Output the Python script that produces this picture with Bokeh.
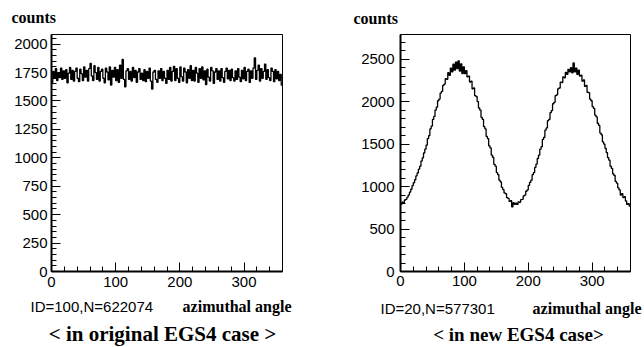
from bokeh.plotting import figure
from bokeh.layouts import row, column
from bokeh.models import Range1d, SingleIntervalTicker, Label
from bokeh.embed import file_html
from bokeh.resources import INLINE

# ---------------- data ----------------
bin_width = 2
edges = list(range(0, 362, bin_width))  # 0..360 azimuthal angle (deg)

counts_original = [
    1665, 1760, 1700, 1785, 1680, 1750, 1705, 1790, 1690, 1765,
    1700, 1775, 1660, 1745, 1795, 1690, 1770, 1675, 1760, 1790,
    1700, 1670, 1780, 1740, 1680, 1800, 1710, 1770, 1675, 1785,
    1830, 1720, 1680, 1810, 1750, 1690, 1795, 1675, 1760, 1780,
    1700, 1660, 1790, 1755, 1685, 1800, 1640, 1770, 1710, 1795,
    1680, 1775, 1665, 1815, 1700, 1865, 1690, 1625, 1765, 1785,
    1690, 1760, 1675, 1795, 1705, 1770, 1665, 1755, 1785, 1690,
    1745, 1680, 1775, 1670, 1760, 1700, 1790, 1675, 1605, 1755,
    1770, 1690, 1665, 1765, 1700, 1785, 1680, 1760, 1700, 1655,
    1770, 1690, 1795, 1675, 1760, 1805, 1680, 1785, 1700, 1665,
    1800, 1715, 1675, 1790, 1755, 1660, 1775, 1700, 1810, 1680,
    1770, 1675, 1795, 1745, 1665, 1785, 1700, 1800, 1685, 1765,
    1645, 1780, 1710, 1675, 1795, 1765, 1655, 1755, 1785, 1690,
    1765, 1675, 1785, 1705, 1665, 1760, 1790, 1695, 1770, 1680,
    1780, 1705, 1675, 1765, 1690, 1785, 1710, 1670, 1770, 1695,
    1795, 1680, 1760, 1780, 1665, 1765, 1700, 1790, 1880, 1690,
    1770, 1815, 1675, 1785, 1700, 1760, 1825, 1690, 1775, 1705,
    1680, 1790, 1760, 1670, 1775, 1695, 1760, 1680, 1735, 1640,
]

counts_new = [
    790, 815, 808, 842, 850, 875, 900, 935, 968, 1010,
    1045, 1080, 1125, 1160, 1205, 1240, 1300, 1338, 1395, 1440,
    1488, 1565, 1600, 1680, 1712, 1790, 1825, 1900, 1935, 2010,
    2030, 2100, 2120, 2190, 2205, 2270, 2262, 2340, 2310, 2395,
    2350, 2440, 2370, 2465, 2390, 2480, 2360, 2445, 2330, 2410,
    2330, 2365, 2290, 2300, 2230, 2240, 2150, 2160, 2070, 2060,
    2000, 1925, 1900, 1815, 1790, 1705, 1680, 1590, 1565, 1480,
    1455, 1370, 1345, 1262, 1240, 1165, 1140, 1075, 1055, 990,
    965, 925, 915, 870, 860, 825, 835, 760, 810, 790,
    805, 790, 820, 815, 845, 850, 890, 900, 945, 960,
    1015, 1050, 1075, 1140, 1165, 1225, 1265, 1330, 1370, 1440,
    1470, 1555, 1580, 1665, 1690, 1775, 1790, 1870, 1895, 1975,
    1990, 2070, 2080, 2150, 2160, 2230, 2225, 2290, 2280, 2345,
    2320, 2380, 2350, 2400, 2340, 2455, 2350, 2395, 2320, 2370,
    2300, 2310, 2240, 2255, 2180, 2190, 2110, 2105, 2030, 2010,
    1940, 1920, 1840, 1820, 1745, 1720, 1630, 1610, 1525, 1500,
    1450, 1400, 1340, 1310, 1240, 1215, 1150, 1130, 1060, 1040,
    985, 960, 900, 915, 870, 880, 830, 790, 800, 770,
]

y_label = "counts"
x_label = "azimuthal angle"
id_original = "ID=100,N=622074"
id_new = "ID=20,N=577301"
caption_original = "< in original EGS4 case >"
caption_new = "< in new EGS4 case>"

SANS = "Liberation Sans"
SERIF = "Liberation Serif"

W = 322
TOP_H = 28
MAIN_H = 270
BOT_H = 49


def text_fig(h):
    """A blank figure whose frame is the whole canvas, y growing downward (pixels)."""
    t = figure(width=W, height=h, output_backend="svg", toolbar_location=None,
               x_range=Range1d(0, W), y_range=Range1d(h, 0),
               x_axis_location=None, y_axis_location=None,
               min_border=0)
    t.grid.visible = False
    t.outline_line_color = None
    t.background_fill_color = "white"
    t.border_fill_color = "white"
    return t


def add_text(t, x, y, text, font, size, bold=False, align="left"):
    t.add_layout(Label(x=x, y=y, text=text, text_font=font,
                       text_font_style="bold" if bold else "normal",
                       text_font_size=size, text_baseline="middle",
                       text_align=align, text_color="black"))


def make_main(values, ymax, y_interval, borders, ystandoff, xstandoff):
    left, right, top, bottom = borders
    p = figure(width=W, height=MAIN_H, output_backend="svg", toolbar_location=None,
               x_range=Range1d(0, 360), y_range=Range1d(0, ymax),
               min_border_left=left, min_border_right=right,
               min_border_top=top, min_border_bottom=bottom)
    p.background_fill_color = "white"
    p.border_fill_color = "white"
    p.outline_line_color = "black"
    p.outline_line_width = 1
    p.grid.visible = False

    p.xaxis.ticker = SingleIntervalTicker(interval=100, num_minor_ticks=5)
    p.yaxis.ticker = SingleIntervalTicker(interval=y_interval, num_minor_ticks=5)
    for ax in (p.xaxis, p.yaxis):
        ax.axis_line_color = "black"
        ax.axis_line_width = 2
        ax.major_tick_in = 9
        ax.major_tick_out = 0
        ax.minor_tick_in = 5
        ax.minor_tick_out = 0
        ax.major_tick_line_color = "black"
        ax.minor_tick_line_color = "black"
        ax.major_label_text_font = SANS
        ax.major_label_text_font_size = "15px"
        ax.major_label_text_color = "black"
    p.xaxis.major_label_standoff = xstandoff
    p.yaxis.major_label_standoff = ystandoff

    xs = edges
    ys = values + [values[-1]]
    p.step(xs, ys, mode="after", line_color="black", line_width=1.3)
    return p


# ---- left panel (original EGS4) ----
top_l = text_fig(TOP_H)
add_text(top_l, 11, 17, y_label, SERIF, "16px", bold=True)
main_l = make_main(counts_original, 2085, 250, (51, 40, 3, 27), 4, 5)
bot_l = text_fig(BOT_H)
add_text(bot_l, 30, 8, id_original, SANS, "15px")
add_text(bot_l, 291, 8, x_label, SERIF, "16px", bold=True, align="right")
add_text(bot_l, 162, 35, caption_original, SERIF, "21px", bold=True, align="center")

# ---- right panel (new EGS4) ----
top_r = text_fig(TOP_H)
add_text(top_r, 31, 18, y_label, SERIF, "16px", bold=True)
main_r = make_main(counts_new, 2790, 500, (78, 14, 6, 23), 6, 4)
bot_r = text_fig(BOT_H)
add_text(bot_r, 58, 10, id_new, SANS, "15px")
add_text(bot_r, 319, 10, x_label, SERIF, "16px", bold=True, align="right")
add_text(bot_r, 196, 36, caption_new, SERIF, "19px", bold=True, align="center")

layout = column(row(top_l, top_r), row(main_l, main_r), row(bot_l, bot_r))
open("out.html", "w").write(file_html(layout, INLINE))
